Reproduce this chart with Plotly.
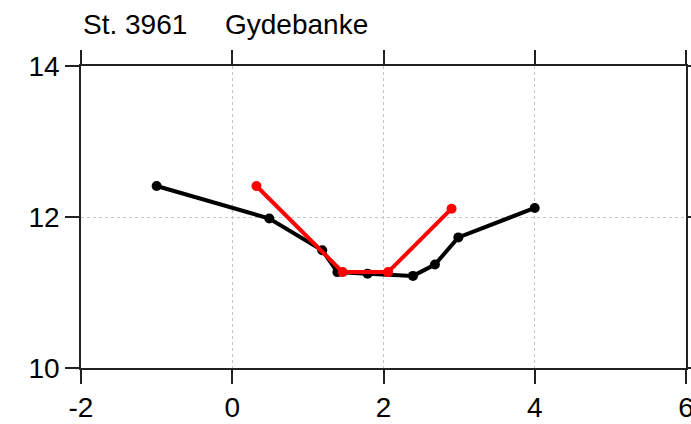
import plotly.graph_objects as go

# Station profile values
black_x = [-1.0, 0.49, 1.19, 1.39, 1.79, 2.39, 2.68, 2.99, 4.0]
black_y = [12.41, 11.98, 11.56, 11.27, 11.25, 11.22, 11.37, 11.73, 12.12]
red_x = [0.32, 1.46, 2.06, 2.90]
red_y = [12.41, 11.27, 11.27, 12.11]

station = "St. 3961"
place = "Gydebanke"

x_ticks = [-2, 0, 2, 4, 6]
x_labels = ["-2", "0", "2", "4", "6"]
y_ticks = [10, 12, 14]
y_labels = ["10", "12", "14"]

FONT = "Liberation Sans, Arial, Helvetica, sans-serif"

fig = go.Figure()
fig.add_trace(go.Scatter(x=black_x, y=black_y, mode="lines+markers",
                         line=dict(color="black", width=4),
                         marker=dict(color="black", size=10),
                         showlegend=False, cliponaxis=False))
fig.add_trace(go.Scatter(x=red_x, y=red_y, mode="lines+markers",
                         line=dict(color="#ff0000", width=4),
                         marker=dict(color="#ff0000", size=10),
                         showlegend=False, cliponaxis=False))

axis_common = dict(
    showline=True, linecolor="#222222", linewidth=1.5, mirror="ticks",
    ticks="outside", ticklen=14, tickwidth=1.5, tickcolor="#222222",
    showgrid=True, gridcolor="#c4c4c4", gridwidth=1, griddash="dot",
    zeroline=False, automargin=False, ticklabeloverflow="allow",
    tickfont=dict(family=FONT, size=28, color="black"),
)

fig.update_xaxes(range=[-2, 6], tickvals=x_ticks, ticktext=x_labels, **axis_common)
fig.update_yaxes(range=[10, 14], tickvals=y_ticks, ticktext=y_labels, **axis_common)

fig.add_annotation(text=station, xref="paper", yref="paper", x=0.0, y=1.0,
                   xanchor="left", yanchor="bottom", yshift=24, showarrow=False,
                   font=dict(family=FONT, size=28, color="black"))
fig.add_annotation(text=place, xref="paper", yref="paper", x=0.235, y=1.0,
                   xanchor="left", yanchor="bottom", yshift=24, showarrow=False,
                   font=dict(family=FONT, size=28, color="black"))

fig.update_layout(
    width=691, height=424,
    margin=dict(l=81, r=5, t=66, b=56),
    paper_bgcolor="white", plot_bgcolor="white",
)

fig.write_html("out.html")
